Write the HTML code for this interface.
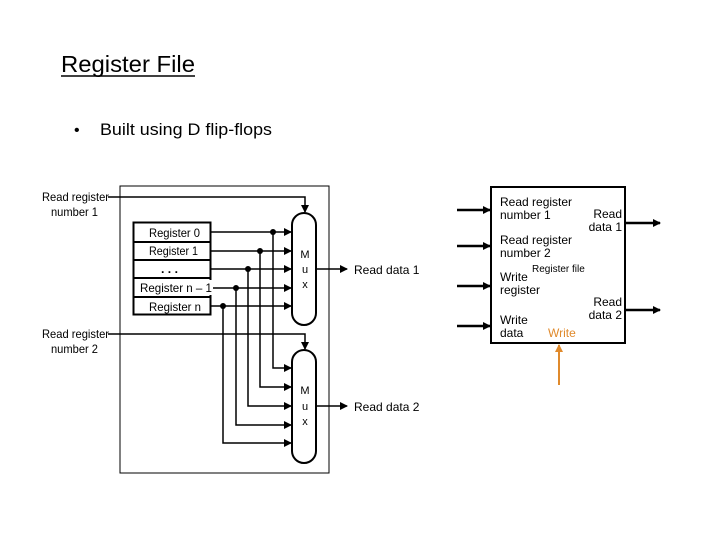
<!DOCTYPE html>
<html><head><meta charset="utf-8"><style>
html,body{margin:0;padding:0;background:#fff;}
svg{display:block;}
text{font-family:"Liberation Sans",Arial,sans-serif;fill:#000;}
</style></head><body>
<svg width="720" height="540" viewBox="0 0 720 540" xmlns="http://www.w3.org/2000/svg">
<defs>
<marker id="a" markerWidth="8" markerHeight="8" refX="7" refY="4" orient="auto" markerUnits="userSpaceOnUse"><path d="M0,0 L8,4 L0,8 z" fill="#000"/></marker>
<marker id="o" markerWidth="8" markerHeight="8" refX="7" refY="4" orient="auto" markerUnits="userSpaceOnUse"><path d="M0,0 L8,4 L0,8 z" fill="#e08a2c"/></marker>
</defs>
<text x="61" y="72" font-size="23" textLength="134" lengthAdjust="spacingAndGlyphs">Register File</text>
<line x1="61" y1="76" x2="195" y2="76" stroke="#000" stroke-width="1.5"/>
<text x="74" y="135" font-size="16">•</text>
<text x="100" y="135" font-size="17" textLength="172" lengthAdjust="spacingAndGlyphs">Built using D flip-flops</text>

<!-- left diagram -->
<rect x="120" y="186" width="209" height="287" fill="none" stroke="#000" stroke-width="1"/>
<rect x="133.5" y="222.5" width="77" height="92" fill="#fff" stroke="#000" stroke-width="2"/>
<g stroke="#000" stroke-width="2">
<line x1="134" y1="242" x2="210" y2="242"/><line x1="134" y1="260" x2="210" y2="260"/>
<line x1="134" y1="278" x2="210" y2="278"/><line x1="134" y1="297" x2="210" y2="297"/>
</g>
<!-- muxes -->
<rect x="292" y="213" width="24" height="112" rx="12" ry="12" fill="#fff" stroke="#000" stroke-width="2"/>
<rect x="292" y="350" width="24" height="113" rx="12" ry="12" fill="#fff" stroke="#000" stroke-width="2"/>
<g font-size="11" text-anchor="middle">
<text x="305" y="258">M</text><text x="305" y="273">u</text><text x="305" y="288">x</text>
<text x="305" y="394">M</text><text x="305" y="410">u</text><text x="305" y="425">x</text>
</g>
<!-- inputs -->
<g stroke="#000" stroke-width="1.5" fill="none">
<polyline points="108,197 305,197 305,212" marker-end="url(#a)"/>
<polyline points="108,334 305,334 305,349" marker-end="url(#a)"/>
<line x1="210" y1="232" x2="291" y2="232" marker-end="url(#a)"/>
<line x1="210" y1="251" x2="291" y2="251" marker-end="url(#a)"/>
<line x1="210" y1="269" x2="291" y2="269" marker-end="url(#a)"/>
<line x1="212" y1="288" x2="291" y2="288" marker-end="url(#a)"/>
<line x1="210" y1="306" x2="291" y2="306" marker-end="url(#a)"/>
<polyline points="273,232 273,368 291,368" marker-end="url(#a)"/>
<polyline points="260,251 260,387 291,387" marker-end="url(#a)"/>
<polyline points="248,269 248,406 291,406" marker-end="url(#a)"/>
<polyline points="236,288 236,425 291,425" marker-end="url(#a)"/>
<polyline points="223,306 223,443 291,443" marker-end="url(#a)"/>
<line x1="316" y1="269" x2="347" y2="269" marker-end="url(#a)"/>
<line x1="316" y1="406" x2="347" y2="406" marker-end="url(#a)"/>
</g>
<g fill="#000">
<circle cx="273" cy="232" r="3"/><circle cx="260" cy="251" r="3"/><circle cx="248" cy="269" r="3"/>
<circle cx="236" cy="288" r="3"/><circle cx="223" cy="306" r="3"/>
</g>
<g font-size="12">
<text x="149" y="237" textLength="51" lengthAdjust="spacingAndGlyphs">Register 0</text>
<text x="149" y="255" textLength="49" lengthAdjust="spacingAndGlyphs">Register 1</text>
<text x="161" y="273" font-weight="bold" textLength="17" lengthAdjust="spacingAndGlyphs">. . .</text>
<rect x="136" y="280" width="77" height="15" fill="#fff"/>
<text x="140" y="292" textLength="72" lengthAdjust="spacingAndGlyphs">Register n – 1</text>
<text x="149" y="311" textLength="52" lengthAdjust="spacingAndGlyphs">Register n</text>
</g>
<g font-size="12">
<text x="354" y="274">Read data 1</text>
<text x="354" y="411">Read data 2</text>
<text x="42" y="201" textLength="67" lengthAdjust="spacingAndGlyphs">Read register</text>
<text x="51" y="216" textLength="47" lengthAdjust="spacingAndGlyphs">number 1</text>
<text x="42" y="338" textLength="67" lengthAdjust="spacingAndGlyphs">Read register</text>
<text x="51" y="353" textLength="47" lengthAdjust="spacingAndGlyphs">number 2</text>
</g>

<!-- right block -->
<rect x="491" y="187" width="134" height="156" fill="#fff" stroke="#000" stroke-width="2"/>
<g stroke="#000" stroke-width="2.5" fill="none">
<line x1="457" y1="210" x2="490" y2="210" marker-end="url(#a)"/>
<line x1="457" y1="246" x2="490" y2="246" marker-end="url(#a)"/>
<line x1="457" y1="286" x2="490" y2="286" marker-end="url(#a)"/>
<line x1="457" y1="326" x2="490" y2="326" marker-end="url(#a)"/>
<line x1="625" y1="223" x2="660" y2="223" marker-end="url(#a)"/>
<line x1="625" y1="310" x2="660" y2="310" marker-end="url(#a)"/>
</g>
<line x1="559" y1="385" x2="559" y2="345" stroke="#e08a2c" stroke-width="2" marker-end="url(#o)"/>
<g font-size="12">
<text x="500" y="206">Read register</text>
<text x="500" y="219">number 1</text>
<text x="622" y="218" text-anchor="end">Read</text>
<text x="622" y="231" text-anchor="end">data 1</text>
<text x="500" y="244">Read register</text>
<text x="500" y="257">number 2</text>
<text x="500" y="281">Write</text>
<text x="500" y="294">register</text>
<text x="622" y="306" text-anchor="end">Read</text>
<text x="622" y="319" text-anchor="end">data 2</text>
<text x="500" y="324">Write</text>
<text x="500" y="337">data</text>
<text x="548" y="337" style="fill:#e08a2c">Write</text>
<text x="532" y="272" font-size="10">Register file</text>
</g>
</svg>
</body></html>
